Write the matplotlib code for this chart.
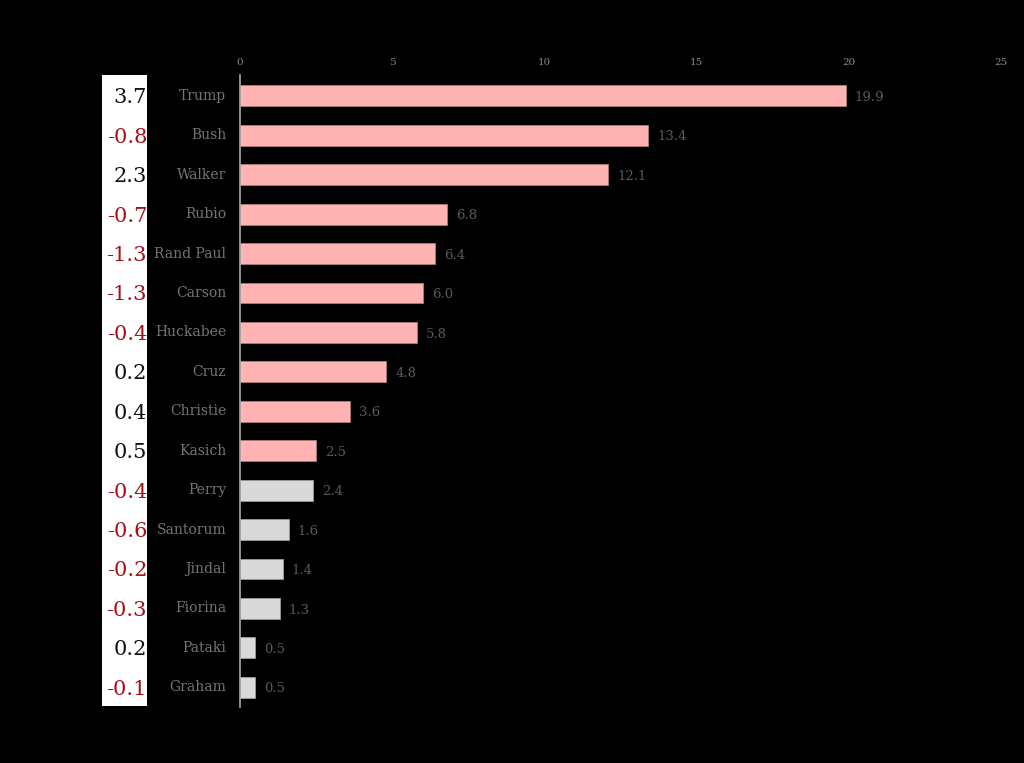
import matplotlib
matplotlib.use("Agg")
import matplotlib.pyplot as plt
from matplotlib.patches import Rectangle

candidates = ["Trump", "Bush", "Walker", "Rubio", "Rand Paul", "Carson", "Huckabee",
              "Cruz", "Christie", "Kasich", "Perry", "Santorum", "Jindal", "Fiorina",
              "Pataki", "Graham"]
support = [19.9, 13.4, 12.1, 6.8, 6.4, 6.0, 5.8, 4.8, 3.6, 2.5, 2.4, 1.6, 1.4, 1.3, 0.5, 0.5]
change = [3.7, -0.8, 2.3, -0.7, -1.3, -1.3, -0.4, 0.2, 0.4, 0.5, -0.4, -0.6, -0.2, -0.3, 0.2, -0.1]
top_n = 10
x_ticks = [0, 5, 10, 15, 20, 25]

plt.rcParams['font.family'] = ['DejaVu Serif']

fig = plt.figure(figsize=(10.24, 7.63), dpi=100, facecolor='black')
ax = fig.add_axes([240/1024, 1-707/763, (1001-240)/1024, (707-75)/763])
ax.set_facecolor('black')

y = list(range(len(candidates)))
colors = ['#ffb3b3' if i < top_n else '#d9d9d9' for i in y]
edges = ['#b07a7a' if i < top_n else '#9a9a9a' for i in y]
ax.barh(y, support, height=0.53, color=colors, edgecolor=edges, linewidth=0.6, zorder=2)

for i, v in enumerate(support):
    ax.text(v + 0.3, i + 0.04, f"{v:.1f}", va='center', ha='left', color='#5a5a5a', fontsize=9.5)

ax.set_xlim(0, 25)
ax.set_ylim(len(candidates) - 0.5, -0.53)
ax.set_xticks(x_ticks)
ax.set_xticklabels([str(t) for t in x_ticks])
ax.xaxis.tick_top()
ax.tick_params(axis='x', length=0, labelsize=7.5, labelcolor='#8a8a8a', pad=6)
ax.set_yticks([])
for s in ['top', 'right', 'bottom']:
    ax.spines[s].set_visible(False)
ax.spines['left'].set_color('#aaaaaa')
ax.spines['left'].set_linewidth(1.2)

# candidate names
for i, name in enumerate(candidates):
    ax.text(-0.45, i, name, transform=ax.transData, ha='right', va='center',
            color='#747474', fontsize=10, clip_on=False)

# white box with changes
box = Rectangle((102/1024, 1-706/763), 45/1024, (706-75)/763,
                transform=fig.transFigure, facecolor='white',
                edgecolor='none', zorder=-1)
fig.patches.append(box)
x_box_right = (147 - 240) / 761 * 25
for i, c in enumerate(change):
    col = '#111111' if c >= 0 else '#a50f15'
    ax.text(x_box_right, i + 0.05, f"{c:.1f}", ha='right', va='center', color=col,
            fontsize=15, clip_on=False, zorder=5)

fig.savefig("out.png", dpi=100, facecolor='black')
